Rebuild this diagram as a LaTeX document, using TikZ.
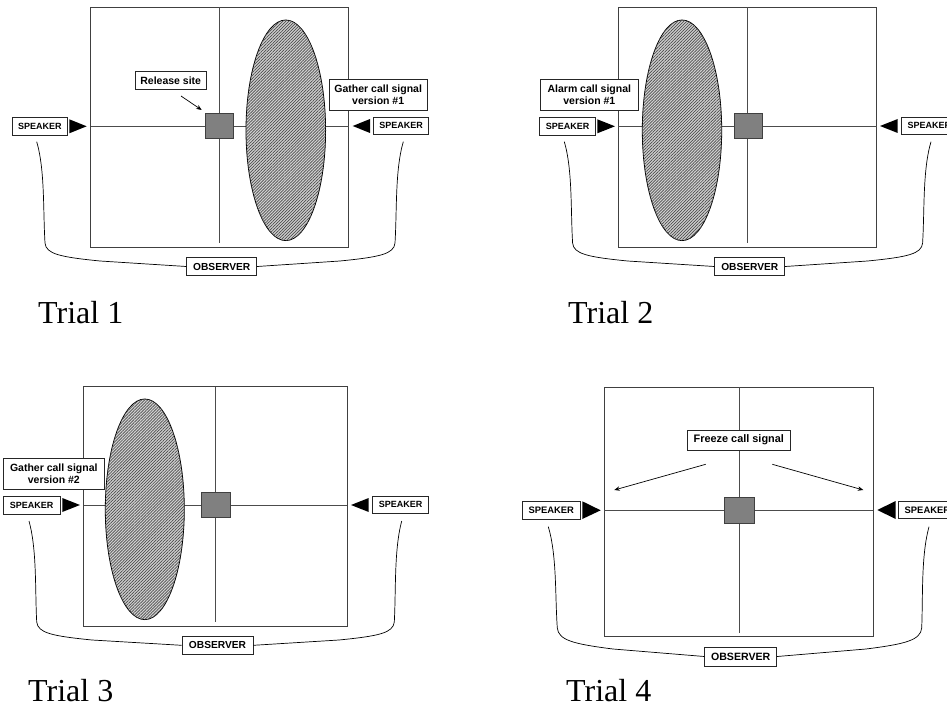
\documentclass[tikz,border=0pt]{standalone}
\usepackage{fontspec}
\setmainfont{Liberation Serif}
\newfontfamily\labfont{Liberation Sans}
\usetikzlibrary{patterns.meta,arrows.meta}
\tikzset{
  frame/.style={draw=black!75,line width=0.9pt},
  cross/.style={draw=black!70,line width=0.8pt},
  zone/.style={draw=black,line width=0.8pt,fill=gray!35,
    postaction={pattern={Lines[angle=45,distance=2.1pt,line width=0.7pt]},pattern color=black!70}},
  site/.style={draw=black!75,fill=black!50,line width=0.8pt,minimum width=28pt,minimum height=25pt,inner sep=0pt},
  lab/.style={draw=black!85,fill=white,line width=0.8pt,font=\labfont\bfseries\fontsize{10.5}{12.3}\selectfont,inner sep=0pt,align=center},
  spk/.style={lab,font=\labfont\bfseries\fontsize{9}{10}\selectfont,minimum width=55.5pt,minimum height=17.5pt},
  obsbox/.style={lab,font=\labfont\bfseries\fontsize{10.2}{12}\selectfont,minimum width=70pt,minimum height=18.5pt},
  horn/.style={fill=black},
  wire/.style={draw=black,line width=0.7pt},
  trial/.style={font=\fontsize{32}{36}\selectfont,anchor=base west,inner sep=0pt},
  ptr/.style={draw=black,line width=0.7pt,-{Stealth[length=5.5pt,width=4.5pt]}},
}
\begin{document}
\begin{tikzpicture}[x=1pt,y=-1pt]
\clip (0,0) rectangle (947,711);
\fill[white] (0,0) rectangle (947,711);

% ===================== Trial 1 =====================
\draw[frame] (90.7,7.3) rectangle (348.7,247.3);
\draw[cross] (219.5,7.3) -- (219.5,243.3);
\draw[cross] (90.7,126) -- (348.7,126);
\path[zone] (285.8,130.3) ellipse [x radius=39.8, y radius=110.3];
\node[site] (sq1) at (219.8,125.9) {};
\node[spk] (spkL1) at (39.8,126.2) {SPEAKER};
\fill[horn] (69.3,119.3) -- (69.3,133.3) -- (86.7,126.3) -- cycle;
\node[spk] (spkR1) at (401,125.8) {SPEAKER};
\fill[horn] (370,119) -- (370,133) -- (352.7,126) -- cycle;
\node[lab,minimum width=71.3pt,minimum height=18pt] (rel1) at (170.7,80.3) {Release site};
\coordinate (relA) at (181,96);
\coordinate (relB) at (201.7,110);
\draw[ptr] (relA) -- (relB);
\node[lab,minimum width=98.3pt,minimum height=30.7pt] (sig1) at (378.2,94.7) {Gather call signal\\version \#1};
\node[obsbox] (obs1) at (221.7,266.5) {OBSERVER};
\draw[wire] (36.7,141.7) .. controls (45,170) and (43,210) .. (45,243)
  .. controls (46,254) and (60,257) .. (100,261) -- (obs1.west);
\draw[wire] (403.3,141.7) .. controls (395,170) and (397,210) .. (395,243)
  .. controls (394,254) and (380,257) .. (340,261) -- (obs1.east);
\node[trial] (t1) at (38,323) {Trial 1};

% ===================== Trial 2 =====================
\draw[frame] (618.3,7.3) rectangle (876.7,247.3);
\draw[cross] (747.3,7.3) -- (747.3,243.3);
\draw[cross] (618.3,126) -- (876.7,126);
\path[zone] (682,130.3) ellipse [x radius=39.7, y radius=110.3];
\node[site] (sq2) at (748,125.9) {};
\node[spk] (spkL2) at (567.6,126.2) {SPEAKER};
\fill[horn] (597.3,119.3) -- (597.3,133.3) -- (615,126.3) -- cycle;
\node[spk] (spkR2) at (929.4,125.8) {SPEAKER};
\fill[horn] (897.7,119) -- (897.7,133) -- (880,126) -- cycle;
\node[lab,minimum width=98.7pt,minimum height=30.7pt] (sig2) at (589.3,94.7) {Alarm call signal\\version \#1};
\node[obsbox] (obs2) at (749.8,266.5) {OBSERVER};
\draw[wire] (564.3,141.7) .. controls (572.6,170) and (570.6,210) .. (572.6,243)
  .. controls (573.6,254) and (587.6,257) .. (627.6,261) -- (obs2.west);
\draw[wire] (931,141.7) .. controls (922.6,170) and (924.6,210) .. (922.6,243)
  .. controls (921.6,254) and (907.6,257) .. (867.6,261) -- (obs2.east);
\node[trial] (t2) at (568,323) {Trial 2};

% ===================== Trial 3 =====================
\draw[frame] (83.7,386.7) rectangle (347,626);
\draw[cross] (215.3,386.7) -- (215.3,622.3);
\draw[cross] (83.7,505) -- (347,505);
\path[zone] (144.8,509.3) ellipse [x radius=39.5, y radius=110.3];
\node[site,minimum width=29pt] (sq3) at (215.5,504.8) {};
\node[spk,minimum width=56.7pt] (spkL3) at (31.7,505.2) {SPEAKER};
\fill[horn] (62.3,498) -- (62.3,512) -- (80,505) -- cycle;
\node[spk,minimum width=56.4pt] (spkR3) at (400.5,504.7) {SPEAKER};
\fill[horn] (368.7,498) -- (368.7,512) -- (351,505) -- cycle;
\node[lab,minimum width=101pt,minimum height=30.7pt] (sig3) at (53.8,473.7) {Gather call signal\\version \#2};
\node[obsbox,minimum width=71pt] (obs3) at (217.5,645.3) {OBSERVER};
\draw[wire] (29,521) .. controls (37,550) and (35,590) .. (36.7,622)
  .. controls (38,633) and (52,636) .. (92,640) -- (obs3.west);
\draw[wire] (401.7,521) .. controls (394,550) and (396,590) .. (394.3,622)
  .. controls (393,633) and (379,636) .. (339,640) -- (obs3.east);
\node[trial] (t3) at (28,701.7) {Trial 3};

% ===================== Trial 4 =====================
\draw[frame] (604.3,387) rectangle (873.3,636.7);
\draw[cross] (739,387) -- (739,632.7);
\draw[cross] (604.3,510.3) -- (873.3,510.3);
\node[site,minimum width=29.7pt,minimum height=26pt] (sq4) at (739.2,510) {};
\node[spk,minimum width=57.3pt,minimum height=17.7pt,font=\labfont\bfseries\fontsize{9.4}{10}\selectfont] (spkL4) at (551.3,510.5) {SPEAKER};
\fill[horn] (582.3,501.3) -- (582.3,519) -- (600.7,510.3) -- cycle;
\node[spk,minimum width=57.3pt,minimum height=17.7pt,font=\labfont\bfseries\fontsize{9.4}{10}\selectfont] (spkR4) at (927.4,510) {SPEAKER};
\fill[horn] (895.7,501) -- (895.7,519) -- (877.3,510) -- cycle;
\node[lab,minimum width=103pt,minimum height=19.7pt,font=\labfont\bfseries\fontsize{10.9}{12}\selectfont] (sig4) at (738.8,440.2) {Freeze call signal};
\coordinate (fzL0) at (705.7,464.3);
\coordinate (fzL1) at (614.3,490);
\coordinate (fzR0) at (772.3,464.3);
\coordinate (fzR1) at (863.3,490);
\draw[ptr] (fzL0) -- (fzL1);
\draw[ptr] (fzR0) -- (fzR1);
\node[obsbox,minimum width=72pt,minimum height=19pt,font=\labfont\bfseries\fontsize{10.6}{12}\selectfont] (obs4) at (740.7,656.5) {OBSERVER};
\draw[wire] (548.3,526.7) .. controls (557,556) and (555,596) .. (557.3,628)
  .. controls (558.5,640) and (573,644) .. (613,649) -- (obs4.west);
\draw[wire] (929,526.7) .. controls (921,556) and (923,596) .. (921.7,628)
  .. controls (920.5,640) and (906,644) .. (866,649) -- (obs4.east);
\node[trial] (t4) at (566,701.7) {Trial 4};
\end{tikzpicture}
\end{document}
